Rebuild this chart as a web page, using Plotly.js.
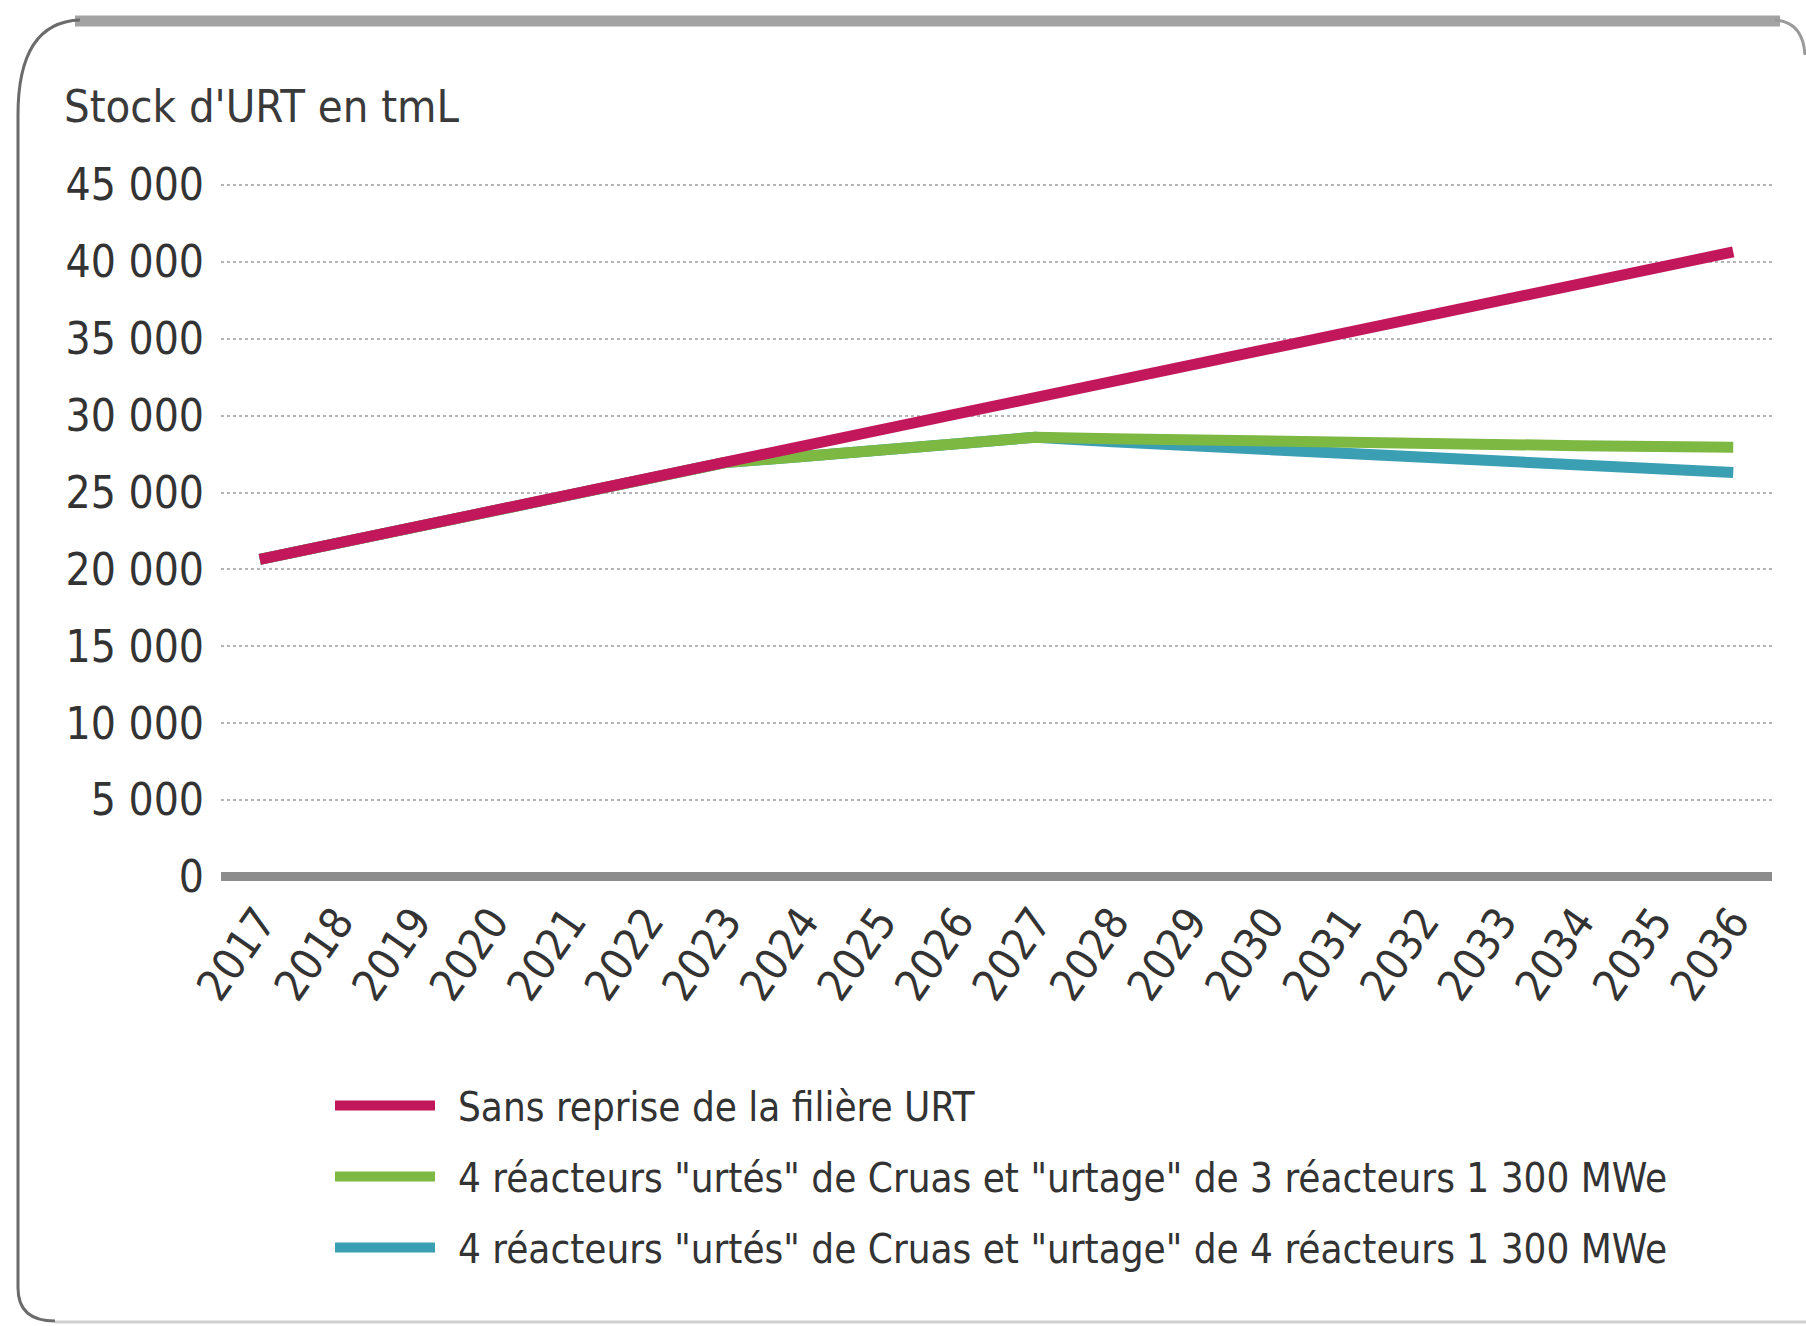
<!DOCTYPE html>
<html>
<head>
<meta charset="utf-8">
<script src="https://cdn.plot.ly/plotly-3.0.1.min.js"></script>
<style>html,body{margin:0;padding:0;background:#fff;}</style>
</head>
<body>
<div id="chart" style="width:1806px;height:1326px;"></div>
<script>
// ---- data ----
const years = ['2017','2018','2019','2020','2021','2022','2023','2024','2025','2026',
               '2027','2028','2029','2030','2031','2032','2033','2034','2035','2036'];
const sansReprise = [20650,21700,22750,23800,24850,25900,26950,28000,29100,30150,
                     31200,32300,33350,34400,35450,36500,37550,38600,39600,40650];
const urtage3 = [20650,21700,22750,23800,24850,25900,26950,27350,27800,28200,
                 28600,28500,28400,28300,28250,28200,28100,28050,28000,27950];
const urtage4 = [20650,21700,22750,23800,24850,25900,26950,27350,27800,28200,
                 28600,28300,28050,27800,27550,27300,27050,26750,26500,26300];
const seriesNames = [
  'Sans reprise de la filière URT',
  '4 réacteurs "urtés" de Cruas et "urtage" de 3 réacteurs 1 300 MWe',
  '4 réacteurs "urtés" de Cruas et "urtage" de 4 réacteurs 1 300 MWe'
];
const yTicks = [0, 5000, 10000, 15000, 20000, 25000, 30000, 35000, 40000, 45000];
const yTitle = "Stock d'URT en tmL";

const FONT = '"Liberation Sans Narrow", "DejaVu Sans Condensed", "Roboto", sans-serif';
const W = 1806, H = 1326;
const M = {l: 221, r: 34, t: 182, b: 446};
const plotW = W - M.l - M.r, plotH = H - M.t - M.b;
const px = x => (x - M.l) / plotW;
const py = y => (H - M.b - y) / plotH;

const traces = [
  {x: years, y: urtage4, name: '\u2002' + seriesNames[2], type: 'scatter', mode: 'lines',
   line: {color: '#3b9fb4', width: 11}, legendrank: 3, legendgroup: 'c'},
  {x: years, y: urtage3, name: '\u2002' + seriesNames[1], type: 'scatter', mode: 'lines',
   line: {color: '#7cb842', width: 11}, legendrank: 2, legendgroup: 'b'},
  {x: years, y: sansReprise, name: '\u2002' + seriesNames[0], type: 'scatter', mode: 'lines',
   line: {color: '#c2185b', width: 11}, legendrank: 1, legendgroup: 'a'}
];

const frameLeft = 'M' + px(18) + ',' + py(115) +
  ' Q' + px(18) + ',' + py(22) + ' ' + px(80) + ',' + py(20) +
  ' M' + px(18) + ',' + py(115) + ' L' + px(18) + ',' + py(1288) +
  ' Q' + px(18) + ',' + py(1321) + ' ' + px(55) + ',' + py(1321);
const frameRight = 'M' + px(1775) + ',' + py(20) +
  ' Q' + px(1803) + ',' + py(22) + ' ' + px(1805) + ',' + py(55);

const layout = {
  width: W, height: H,
  margin: M,
  paper_bgcolor: '#ffffff', plot_bgcolor: '#ffffff',
  font: {family: FONT, color: '#3a3a3a', size: 44},
  separators: ', ',
  title: {text: yTitle, x: 64 / W, xanchor: 'left', xref: 'container',
          y: 1 - 106 / H, yanchor: 'middle', yref: 'container',
          font: {family: FONT, size: 45, color: '#3a3a3a'}},
  xaxis: {type: 'category', range: [-0.5, 19.5], showgrid: false, zeroline: false,
          showline: false, tickangle: -55, ticks: '', ticklen: 0, ticklabelstandoff: 6,
          tickfont: {family: FONT, size: 44, color: '#333'}, fixedrange: true},
  yaxis: {range: [-200, 45200], tickvals: yTicks, tickformat: ',d',
          showgrid: true, gridcolor: '#b5b5b5', gridwidth: 2,
          griddash: 'dot', zeroline: true, zerolinecolor: '#8c8c8c', zerolinewidth: 9,
          ticks: '', ticklabelstandoff: 16,
          tickfont: {family: FONT, size: 44, color: '#333'}, fixedrange: true},
  showlegend: true,
  legend: {x: px(330), xanchor: 'left', y: py(1073), yanchor: 'top',
           orientation: 'v', traceorder: 'grouped', tracegroupgap: 16,
           itemwidth: 100, font: {family: FONT, size: 40, color: '#333'},
           bgcolor: 'rgba(0,0,0,0)'},
  shapes: [
    {type: 'line', xref: 'paper', yref: 'paper', x0: px(75), x1: px(1780), y0: py(21), y1: py(21),
     line: {color: '#a3a3a3', width: 11}},
    {type: 'path', xref: 'paper', yref: 'paper', path: frameLeft, line: {color: '#6b6b6b', width: 3}},
    {type: 'path', xref: 'paper', yref: 'paper', path: frameRight, line: {color: '#9a9a9a', width: 3}},
    {type: 'line', xref: 'paper', yref: 'paper', x0: px(55), x1: px(1806), y0: py(1322), y1: py(1322),
     line: {color: '#d0d0d0', width: 3}}
  ]
};

Plotly.newPlot('chart', traces, layout, {displayModeBar: false, staticPlot: true});
</script>
</body>
</html>
